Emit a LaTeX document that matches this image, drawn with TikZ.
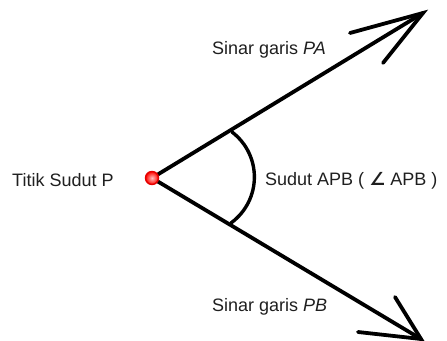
\documentclass[tikz,border=0pt]{standalone}
\usepackage{fontspec}
\setmainfont{Liberation Sans}
\newfontfamily\symfont{DejaVu Sans}
\begin{document}
\begin{tikzpicture}[x=1pt,y=-1pt,
  ray/.style={line width=3.8pt,line cap=round,black},
  lbl/.style={font=\fontsize{18}{21}\selectfont,text=black!88,inner sep=0pt},
  vertex/.style={circle,minimum size=13pt,inner sep=0pt,draw=red!90!black,line width=1.4pt,
    inner color=red!25!white,outer color=red!95!orange}]
  \useasboundingbox (0,0) rectangle (447,340);

  % vertex and ray ends
  \coordinate (tipA) at (423,13);
  \coordinate (tipB) at (421,339);
  \coordinate (barbA1) at (350,33);
  \coordinate (barbA2) at (383,63);
  \coordinate (barbB1) at (395,297);
  \coordinate (barbB2) at (358,332);
  \coordinate (arcA) at (232,132);
  \coordinate (arcB) at (231,223);

  % rays
  \draw[ray] (152,178) -- (tipA);
  \draw[ray] (152,178) -- (tipB);
  \draw[ray] (barbA1) -- (tipA) -- (barbA2);
  \draw[ray] (barbB1) -- (tipB) -- (barbB2);

  % angle arc
  \draw[ray,line width=3.4pt] (arcA) .. controls (262,155) and (262,200) .. (arcB);

  \node[vertex] (P) at (152,178) {};

  % labels
  \node[lbl,anchor=west] (titik) at (12,180) {Titik Sudut P};
  \node[lbl,anchor=west] (pa) at (212,50) {Sinar garis \textit{PA}};
  \node[lbl,anchor=west] (pb) at (212,307) {Sinar garis \textit{PB}};
  \node[lbl,anchor=west] (sudut) at (265,181) {Sudut APB ( {\symfont\bfseries ∠} APB )};
\end{tikzpicture}
\end{document}
